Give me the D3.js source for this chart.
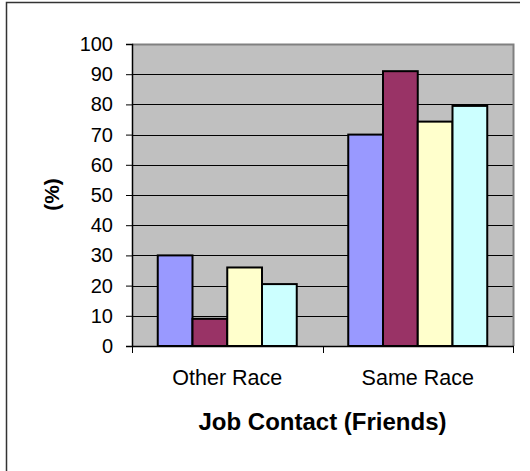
<!DOCTYPE html>
<html>
<head>
<meta charset="utf-8">
<script src="https://cdn.jsdelivr.net/npm/d3@7"></script>
<style>
  html, body { margin: 0; padding: 0; background: #fff; }
  svg { display: block; font-family: Arial, "Liberation Sans", sans-serif; }
</style>
</head>
<body>
<svg id="chart" width="530" height="471"></svg>
<script>
// Job contact through friends, by race of contact (%)
const categories = ["Other Race", "Same Race"];
const seriesKeys = ["s1", "s2", "s3", "s4"];
const seriesColors = ["#9999FF", "#993366", "#FFFFCC", "#CCFFFF"];
const s1Values = [30, 70];
const s2Values = [9, 91];
const s3Values = [26, 74.3];
const s4Values = [20.5, 79.5];
const yTicks = [0, 10, 20, 30, 40, 50, 60, 70, 80, 90, 100];
const yLabel = "(%)";
const xTitle = "Job Contact (Friends)";

const seriesValues = [s1Values, s2Values, s3Values, s4Values];
const rows = categories.map((c, i) => ({
  category: c,
  values: seriesKeys.map((k, j) => ({ key: k, value: seriesValues[j][i], color: seriesColors[j] }))
}));

const svg = d3.select("#chart");
const margin = { left: 132, top: 44 };
const W = 381, H = 302;

// outer chart frame (left and top edges)
svg.append("path")
  .attr("d", "M6.5,471 L6.5,2.5 L520,2.5")
  .attr("fill", "none")
  .attr("stroke", "#333")
  .attr("stroke-width", 1.5);

const g = svg.append("g").attr("transform", `translate(${margin.left},${margin.top})`);

const y = d3.scaleLinear().domain([0, 100]).range([H, 0]);
const x0 = d3.scaleBand().domain(categories).range([0, W]).paddingInner(0).paddingOuter(0);
const x1 = d3.scaleBand().domain(seriesKeys).range([0, x0.bandwidth()]).paddingInner(0).paddingOuter(0.741);

// plot background
g.append("rect").attr("x", 0).attr("y", 0).attr("width", W).attr("height", H).attr("fill", "#C0C0C0");

// gridlines
g.append("g").selectAll("line")
  .data(yTicks.filter(t => t > 0 && t < 100))
  .join("line")
  .attr("x1", 0).attr("x2", W)
  .attr("y1", d => Math.round(y(d)) + 0.5).attr("y2", d => Math.round(y(d)) + 0.5)
  .attr("stroke", "#000").attr("stroke-width", 1);

// plot border (top and right)
g.append("path")
  .attr("d", `M0,0.5 L${W + 0.5},0.5 L${W + 0.5},${H}`)
  .attr("fill", "none").attr("stroke", "#808080").attr("stroke-width", 2);

// bars
const groups = g.append("g").selectAll("g")
  .data(rows).join("g")
  .attr("transform", d => `translate(${x0(d.category)},0)`);

groups.selectAll("rect")
  .data(d => d.values).join("rect")
  .attr("x", d => x1(d.key))
  .attr("y", d => y(d.value))
  .attr("width", x1.bandwidth())
  .attr("height", d => H - y(d.value))
  .attr("fill", d => d.color)
  .attr("stroke", "#000")
  .attr("stroke-width", 2);

// y axis
const yAxis = d3.axisLeft(y).tickValues(yTicks).tickSize(6).tickPadding(13).tickFormat(d3.format("d"));
const yg = g.append("g").call(yAxis);
yg.select(".domain").attr("stroke", "#000").attr("stroke-width", 1.5);
yg.selectAll(".tick line").attr("stroke", "#000");
yg.selectAll(".tick text").attr("font-size", 20).attr("fill", "#000")
  .attr("font-family", "Arial, 'Liberation Sans', sans-serif");

// x axis with ticks at category boundaries
const xg = g.append("g").attr("transform", `translate(0,${H})`);
xg.append("line").attr("x1", 0).attr("x2", W + 1).attr("y1", 0.5).attr("y2", 0.5)
  .attr("stroke", "#000").attr("stroke-width", 1.5);
const bounds = categories.map(c => x0(c)).concat([W]);
xg.selectAll("line.tk").data(bounds).join("line").attr("class", "tk")
  .attr("x1", d => Math.round(d) + 0.5).attr("x2", d => Math.round(d) + 0.5)
  .attr("y1", 0).attr("y2", 7).attr("stroke", "#000");
xg.selectAll("text").data(categories).join("text")
  .attr("x", d => x0(d) + x0.bandwidth() / 2)
  .attr("y", 39)
  .attr("text-anchor", "middle")
  .attr("font-size", 21.5)
  .attr("fill", "#000")
  .text(d => d);

// axis titles
svg.append("text")
  .attr("transform", "translate(59,194.5) rotate(-90)")
  .attr("text-anchor", "middle")
  .attr("font-size", 21)
  .attr("font-weight", "bold")
  .text(yLabel);

svg.append("text")
  .attr("x", 322.5)
  .attr("y", 430)
  .attr("text-anchor", "middle")
  .attr("font-size", 24)
  .attr("font-weight", "bold")
  .text(xTitle);
</script>
</body>
</html>
